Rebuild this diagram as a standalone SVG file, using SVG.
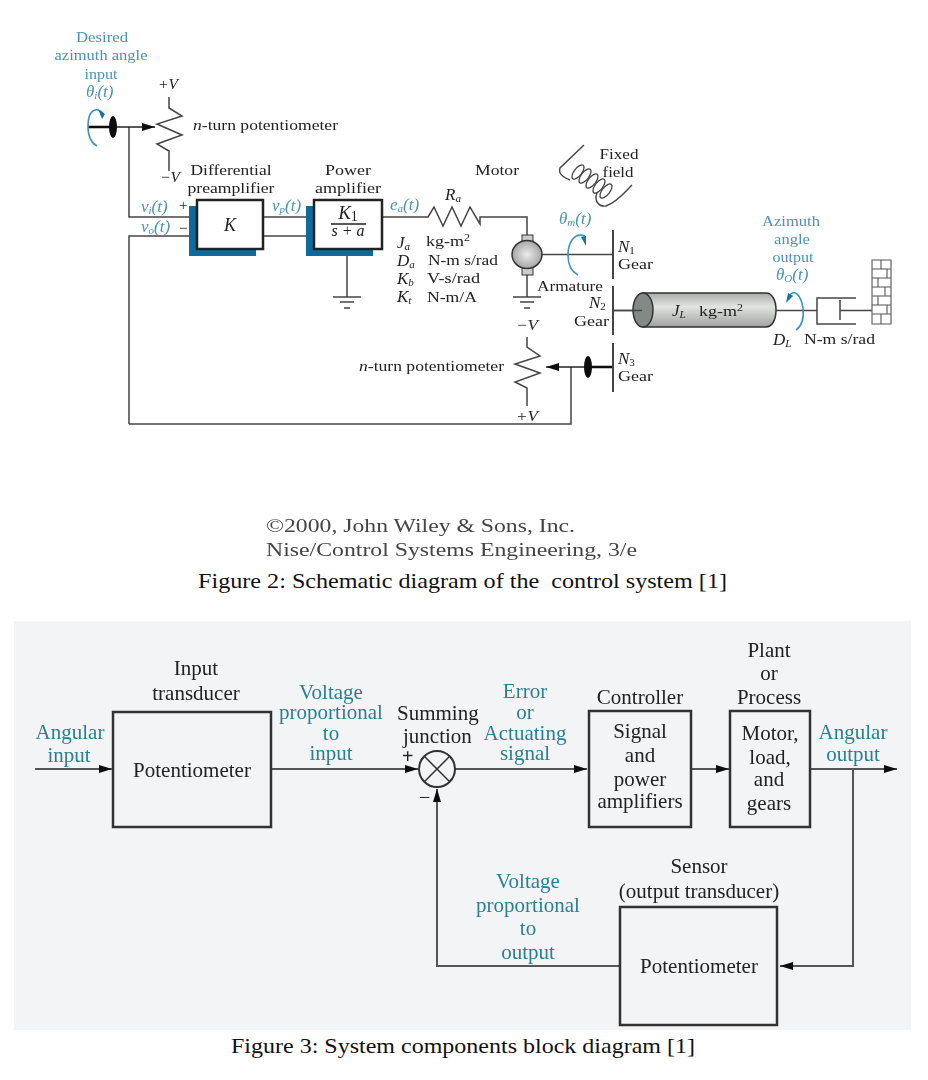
<svg xmlns="http://www.w3.org/2000/svg" width="928" height="1080" viewBox="0 0 928 1080">
<style>
text{font-family:"Liberation Serif","Times New Roman",serif;fill:#222}
.t{font-size:15px}
.c{text-anchor:middle}
.b{fill:#4a93b3}
.i{font-style:italic}
.v{font-size:17px}
.s{font-size:11px}
.m{font-size:21px}
.q{fill:#2b7f92}
.cap{font-size:21.500px;fill:#111}
.w{fill:none;stroke:#444;stroke-width:1.500}
.bl{fill:none;stroke:#3f93b8;stroke-width:1.600}
.box{fill:#fff;stroke:#222;stroke-width:2.500}
.sh{fill:#0f6a9c}
.k{fill:#111}
.mb{fill:none;stroke:#333;stroke-width:2.500}
.ml{fill:none;stroke:#555;stroke-width:2}
</style>
<defs>
<marker id="a" markerWidth="14" markerHeight="8" refX="13" refY="4" orient="auto" markerUnits="userSpaceOnUse"><path d="M0 0L13 4L0 8Z" fill="#111"/></marker>
<linearGradient id="g" x1="0" y1="0" x2="0" y2="1"><stop offset="0" stop-color="#a9aca9"/><stop offset=".4" stop-color="#e2e4e1"/><stop offset="1" stop-color="#a0a3a0"/></linearGradient>
<radialGradient id="mg"><stop offset="0" stop-color="#ececec"/><stop offset="1" stop-color="#a5a5a5"/></radialGradient>
<filter id="s" x="-5%" y="-5%" width="110%" height="110%"><feGaussianBlur stdDeviation="0.55"/></filter>
</defs>
<rect width="928" height="1080" fill="#fff"/>
<g filter="url(#s)">
<g id="connectors-top">
<path class="w" d="M129 127V217H197M129 424V236H197M129 424H571V367"/>
<path class="w" d="M263 217H314M263 236H314M347 249V297"/>
<path class="w" d="M382 217H428L434 207L443 226L452 207L461 226L470 207L480 224V217H527V235M527 275V297"/>
<path class="w" d="M541 254.500H613"/>
<path d="M88 127H113" stroke="#111" stroke-width="2.500" fill="none"/>
<path d="M113 127H155" stroke="#222" stroke-width="1.500" fill="none" marker-end="url(#a)"/>
<path d="M613 367H546" stroke="#222" stroke-width="1.500" fill="none" marker-end="url(#a)"/>
<path d="M613 367H588" stroke="#111" stroke-width="2.500" fill="none"/>
</g>
<g id="input-shaft">
<ellipse class="k" cx="113" cy="127" rx="4" ry="11"/>
<path class="bl" d="M103 113C94 105 88 113 88 126C88 136 91 143 97 146"/>
<path d="M98 109L105 114L102 119Z" fill="#1f7398"/>
</g>
<g id="pot-input">
<path class="w" d="M169 97V108L182 116L157 124L182 135L157 144L169 151V171"/>
<text class="t c i" x="168" y="89" textLength="20" lengthAdjust="spacingAndGlyphs">+V</text>
<text class="t c i" x="170" y="182" textLength="20" lengthAdjust="spacingAndGlyphs">−V</text>
<text class="t" x="193" y="130" textLength="145" lengthAdjust="spacingAndGlyphs"><tspan class="i">n</tspan>-turn potentiometer</text>
</g>
<g id="preamp">
<rect class="sh" x="189" y="206" width="67" height="50"/>
<rect class="box" x="197" y="200" width="66" height="49"/>
<text class="c i" x="230" y="231" font-size="18">K</text>
<text class="t c" x="231" y="175" textLength="81" lengthAdjust="spacingAndGlyphs">Differential</text>
<text class="t c" x="231" y="193" textLength="87" lengthAdjust="spacingAndGlyphs">preamplifier</text>
<text class="v b i" x="141" y="212">v<tspan class="s" dy="2">i</tspan><tspan dy="-2">(t)</tspan></text>
<text class="v b i" x="141" y="232">v<tspan class="s" dy="2">o</tspan><tspan dy="-2">(t)</tspan></text>
<text class="t" x="179" y="210">+</text>
<text class="t" x="179" y="233">−</text>
<text class="v b i" x="272" y="211">v<tspan class="s" dy="2">p</tspan><tspan dy="-2">(t)</tspan></text>
</g>
<g id="power-amp">
<rect class="sh" x="306" y="206" width="67" height="50"/>
<rect class="box" x="314" y="200" width="68" height="49"/>
<text class="c i" x="348" y="219" font-size="19">K<tspan font-size="14" dy="2" font-style="normal">1</tspan></text>
<path d="M331 224H366" stroke="#222" stroke-width="1.300"/>
<text class="c i" x="348" y="236" font-size="16" fill="#555">s + a</text>
<text class="t c" x="348" y="175" textLength="46" lengthAdjust="spacingAndGlyphs">Power</text>
<text class="t c" x="348" y="193" textLength="66" lengthAdjust="spacingAndGlyphs">amplifier</text>
<text class="v b i" x="390" y="210">e<tspan class="s" dy="2">a</tspan><tspan dy="-2">(t)</tspan></text>
<path class="w" d="M333 297H361M340 302H354M344 308H350"/>
</g>
<g id="motor">
<text class="t c" x="497" y="175" textLength="44" lengthAdjust="spacingAndGlyphs">Motor</text>
<text class="v i" x="445" y="200">R<tspan class="s" dy="2">a</tspan></text>
<rect x="522" y="235" width="11" height="8" fill="#ccc" stroke="#333"/>
<rect x="522" y="266" width="11" height="9" fill="#ccc" stroke="#333"/>
<ellipse cx="527" cy="254.500" rx="15" ry="14" fill="url(#mg)" stroke="#333" stroke-width="1.500"/>
<path class="w" d="M513 297H541M520 302H534M524 308H530"/>
<text class="v i" x="397" y="248">J<tspan class="s" dy="2">a</tspan></text>
<text class="t" x="426" y="246" textLength="44" lengthAdjust="spacingAndGlyphs">kg-m<tspan font-size="10" dy="-5">2</tspan></text>
<text class="v i" x="397" y="266">D<tspan class="s" dy="2">a</tspan></text>
<text class="t" x="428" y="265" textLength="70" lengthAdjust="spacingAndGlyphs">N-m s/rad</text>
<text class="v i" x="397" y="284">K<tspan class="s" dy="2">b</tspan></text>
<text class="t" x="427" y="283" textLength="53" lengthAdjust="spacingAndGlyphs">V-s/rad</text>
<text class="v i" x="397" y="302">K<tspan class="s" dy="2">t</tspan></text>
<text class="t" x="427" y="302" textLength="50" lengthAdjust="spacingAndGlyphs">N-m/A</text>
<text class="t" x="537" y="291" textLength="66" lengthAdjust="spacingAndGlyphs">Armature</text>
<text class="v b i" x="559" y="224">θ<tspan class="s" dy="2">m</tspan><tspan dy="-2">(t)</tspan></text>
<path class="bl" d="M585 236C574 232 568 243 568 255C568 265 572 272 578 275"/>
<path d="M581 237L586 236L586 246Z" fill="#1f7398"/>
</g>
<g id="fixed-field">
<path d="M584 145L560 168C558 174 563 177 570 180M597 193C594 200 598 207 606 206C617 202 625 192 632 185" fill="none" stroke="#444" stroke-width="1.400"/>
<g fill="none" stroke="#444" stroke-width="1.300">
<ellipse cx="578" cy="172" rx="3.800" ry="8.500" transform="rotate(38 578 172)"/>
<ellipse cx="585" cy="176" rx="3.800" ry="8.500" transform="rotate(38 585 176)"/>
<ellipse cx="592" cy="181" rx="3.800" ry="8.500" transform="rotate(38 592 181)"/>
<ellipse cx="599" cy="186" rx="3.800" ry="8.500" transform="rotate(38 599 186)"/>
<ellipse cx="606" cy="191" rx="3.800" ry="8.500" transform="rotate(38 606 191)"/>
</g>
<text class="t c" x="619" y="159" textLength="39" lengthAdjust="spacingAndGlyphs">Fixed</text>
<text class="t c" x="618" y="177" textLength="31" lengthAdjust="spacingAndGlyphs">field</text>
</g>
<g id="gears">
<path d="M613 230V279M613 286V335M613 343V392" stroke="#444" stroke-width="2" fill="none"/>
<text class="v i" x="618" y="252">N<tspan class="s" dy="2" font-style="normal">1</tspan></text>
<text class="t" x="618" y="269" textLength="35" lengthAdjust="spacingAndGlyphs">Gear</text>
<text class="v i" x="589" y="308">N<tspan class="s" dy="2" font-style="normal">2</tspan></text>
<text class="t" x="574" y="326" textLength="35" lengthAdjust="spacingAndGlyphs">Gear</text>
<text class="v i" x="618" y="364">N<tspan class="s" dy="2" font-style="normal">3</tspan></text>
<text class="t" x="618" y="381" textLength="35" lengthAdjust="spacingAndGlyphs">Gear</text>
</g>
<g id="pot-output">
<path class="w" d="M527 337V347L540 356L515 364L540 373L515 382L527 388V406"/>
<text class="t c i" x="527" y="330" textLength="22" lengthAdjust="spacingAndGlyphs">−V</text>
<text class="t c i" x="527" y="421" textLength="22" lengthAdjust="spacingAndGlyphs">+V</text>
<text class="t" x="359" y="371" textLength="145" lengthAdjust="spacingAndGlyphs"><tspan class="i">n</tspan>-turn potentiometer</text>
<ellipse class="k" cx="588" cy="367" rx="4" ry="11"/>
</g>
<g id="load">
<path class="w" d="M613 310.500H643M776 310.500H817"/>
<path d="M643 293H766C772 293 776 300 776 310C776 320 772 327 766 327H643Z" fill="url(#g)" stroke="#333" stroke-width="1.500"/>
<ellipse cx="643" cy="310" rx="10" ry="17" fill="#858986" stroke="#333" stroke-width="1.500"/>
<path class="w" d="M613 310.500H642"/>
<text class="v i" x="672" y="316">J<tspan class="s" dy="2">L</tspan></text>
<text class="t" x="699" y="316" textLength="44" lengthAdjust="spacingAndGlyphs">kg-m<tspan font-size="10" dy="-5">2</tspan></text>
<text class="t c b" x="791" y="226" textLength="58" lengthAdjust="spacingAndGlyphs">Azimuth</text>
<text class="t c b" x="792" y="244" textLength="36" lengthAdjust="spacingAndGlyphs">angle</text>
<text class="t c b" x="793" y="262" textLength="41" lengthAdjust="spacingAndGlyphs">output</text>
<text class="v b i" x="776" y="280">θ<tspan class="s" dy="2">O</tspan><tspan dy="-2">(t)</tspan></text>
<path class="bl" d="M789 296C794 288 801 295 803 308C804 318 802 326 796 330"/>
<path d="M786 303L788 293L793 296Z" fill="#1f7398"/>
</g>
<g id="damper">
<path class="w" d="M856 298H817V324H856M840 300V320M840 310.500H872"/>
<text class="v i" x="773" y="345">D<tspan class="s" dy="2">L</tspan></text>
<text class="t" x="804" y="344" textLength="71" lengthAdjust="spacingAndGlyphs">N-m s/rad</text>
</g>
<g id="wall">
<path d="M872 260H891V324H872ZM872 269H891M872 278H891M872 287H891M872 296H891M872 305H891M872 314H891M881 260V269M887 269V278M878 278V287M885 287V296M878 296V305M887 305V314M881 314V324" fill="#fff" stroke="#555" stroke-width="1.100"/>
</g>
<g id="azimuth-input">
<text class="t c b" x="102" y="42" textLength="52" lengthAdjust="spacingAndGlyphs">Desired</text>
<text class="t c b" x="101" y="60" textLength="93" lengthAdjust="spacingAndGlyphs">azimuth angle</text>
<text class="t c b" x="101" y="79" textLength="33" lengthAdjust="spacingAndGlyphs">input</text>
<text class="v b i" x="86" y="97">θ<tspan class="s" dy="2">i</tspan><tspan dy="-2">(t)</tspan></text>
</g>
<g id="credit">
<text x="266" y="532" font-size="19" style="fill:#444" textLength="309" lengthAdjust="spacingAndGlyphs">©2000, John Wiley &amp; Sons, Inc.</text>
<text x="266" y="556" font-size="19" style="fill:#444" textLength="371" lengthAdjust="spacingAndGlyphs">Nise/Control Systems Engineering, 3/e</text>
</g>
</g>
<g id="captions">
<text class="cap" x="198" y="588" textLength="529" lengthAdjust="spacingAndGlyphs" xml:space="preserve">Figure 2: Schematic diagram of the  control system [1]</text>
<text class="cap" x="231" y="1053" textLength="464" lengthAdjust="spacingAndGlyphs">Figure 3: System components block diagram [1]</text>
</g>
<rect id="panel" x="14" y="621" width="897" height="409" fill="#f3f4f6"/>
<g filter="url(#s)">
<g id="connectors-bottom">
<path class="ml" d="M35 769H112" marker-end="url(#a)"/>
<path class="ml" d="M272 769H418" marker-end="url(#a)"/>
<path class="ml" d="M455 769H587" marker-end="url(#a)"/>
<path class="ml" d="M691 769H729" marker-end="url(#a)"/>
<path class="ml" d="M810 769H897" marker-end="url(#a)"/>
<path class="ml" d="M853 769V966H780" marker-end="url(#a)"/>
<path class="ml" d="M620 966H437V789" marker-end="url(#a)"/>
</g>
<g id="input-pot">
<rect class="mb" x="113" y="712" width="158" height="115"/>
<text class="m c" x="192" y="777">Potentiometer</text>
<text class="m c" x="196" y="675">Input</text>
<text class="m c" x="196" y="700">transducer</text>
</g>
<g id="summing">
<circle cx="437" cy="769" r="18" fill="none" stroke="#333" stroke-width="2"/>
<path d="M424.300 756.300L449.700 781.700M449.700 756.300L424.300 781.700" stroke="#333" stroke-width="1.500"/>
<text class="m" x="397" y="720">Summing</text>
<text class="m" x="403" y="743">junction</text>
<text x="402" y="763" font-size="20" font-weight="bold">+</text>
<text x="419" y="804" font-size="20">−</text>
</g>
<g id="controller">
<rect class="mb" x="589" y="711" width="102" height="116"/>
<text class="m c" x="640" y="704">Controller</text>
<text class="m c" x="640" y="738">Signal</text>
<text class="m c" x="640" y="762">and</text>
<text class="m c" x="640" y="786">power</text>
<text class="m c" x="640" y="808">amplifiers</text>
</g>
<g id="plant">
<rect class="mb" x="730" y="711" width="80" height="116"/>
<text class="m c" x="769" y="657">Plant</text>
<text class="m c" x="769" y="680">or</text>
<text class="m c" x="769" y="704">Process</text>
<text class="m c" x="770" y="740">Motor,</text>
<text class="m c" x="770" y="764">load,</text>
<text class="m c" x="769" y="786">and</text>
<text class="m c" x="769" y="810">gears</text>
</g>
<g id="sensor">
<rect class="mb" x="620" y="907" width="157" height="118"/>
<text class="m c" x="699" y="873">Sensor</text>
<text class="m c" x="699" y="898">(output transducer)</text>
<text class="m c" x="699" y="973">Potentiometer</text>
</g>
<g id="signal-labels">
<text class="m c q" x="70" y="739">Angular</text>
<text class="m c q" x="69" y="762">input</text>
<text class="m c q" x="331" y="699">Voltage</text>
<text class="m c q" x="331" y="719">proportional</text>
<text class="m c q" x="331" y="740">to</text>
<text class="m c q" x="331" y="760">input</text>
<text class="m c q" x="525" y="698">Error</text>
<text class="m c q" x="525" y="719">or</text>
<text class="m c q" x="525" y="740">Actuating</text>
<text class="m c q" x="525" y="760">signal</text>
<text class="m c q" x="853" y="739">Angular</text>
<text class="m c q" x="853" y="761">output</text>
<text class="m c q" x="528" y="888">Voltage</text>
<text class="m c q" x="528" y="912">proportional</text>
<text class="m c q" x="528" y="935">to</text>
<text class="m c q" x="528" y="959">output</text>
</g>
</g>
</svg>
